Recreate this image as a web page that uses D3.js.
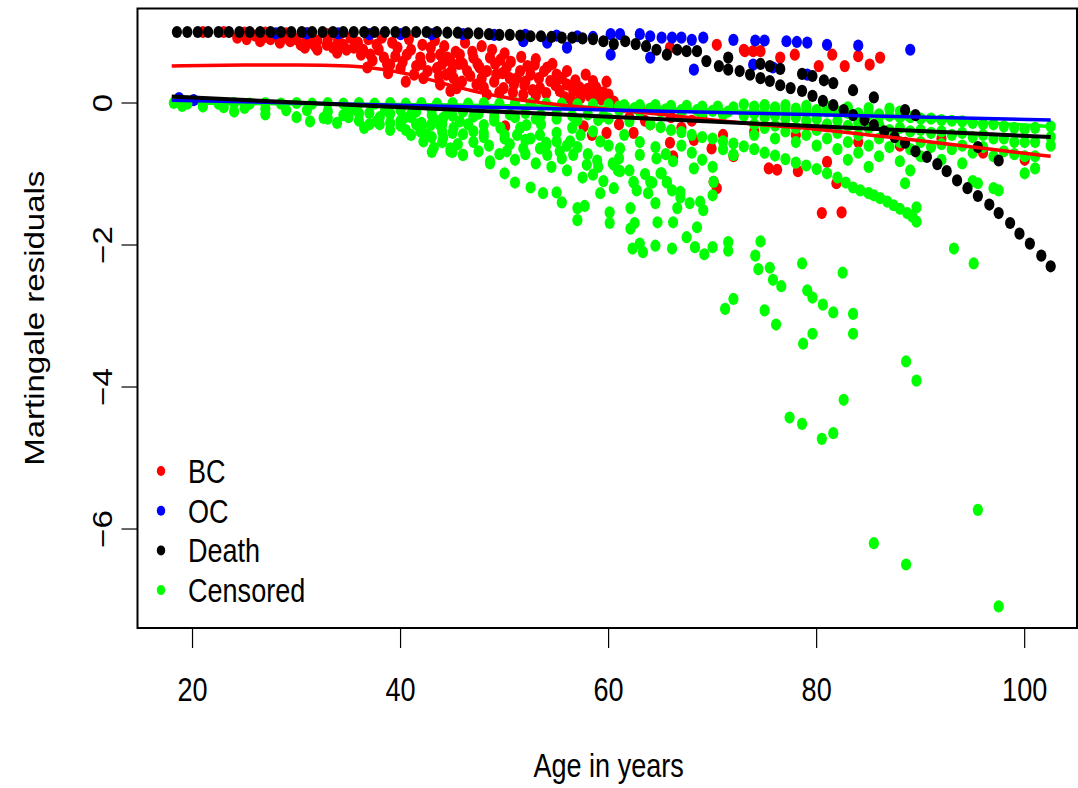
<!DOCTYPE html>
<html>
<head>
<meta charset="utf-8">
<script src="https://cdn.jsdelivr.net/npm/d3@7"></script>
<style>
  body { margin: 0; background: #fff; }
  text { font-family: "Liberation Sans", Arial, Helvetica, sans-serif; font-size: 33px; fill: #000; }
</style>
</head>
<body>
<div id="chart"></div>
<script>
// ---- data: [age, martingale residual] ----
const groups = ["BC", "OC", "Death", "Censored"];
const groupColors = ["#ff0000", "#0000ff", "#000000", "#00ff00"];
const xTicks = [20, 40, 60, 80, 100];
const yTicks = [0, -2, -4, -6];

const bcPoints = [
  [21,1],[23,1],[25,0.99],[27,0.99],[29,0.98],[31,0.98],[33,0.97],
  [26,0.95],[27,0.93],[28,0.95],[29,0.92],[30,0.9],[31,0.92],[32,0.88],[33,0.9],[34,0.85],
  [33.5,0.78],[31.8,0.8],[30.8,0.78],
  [24.3,0.92],[25.2,0.9],[26.5,0.87],[27.5,0.9],[28.4,0.85],[29.4,0.87],[30.4,0.82],[31.3,0.85],
  [32,0.75],[32.9,0.82],[33.9,0.71],[34.5,0.82],[35.5,0.78],[36.4,0.75],[36.8,0.5],[37.1,0.68],
  [37.7,0.82],[38.4,0.64],[39,0.54],[39.7,0.78],[40,0.49],[40.6,0.68],[41.3,0.4],[41.9,0.64],
  [42.2,0.35],[42.9,0.78],[43.5,0.49],[43.8,0.26],[44.5,0.64],[44.8,0.17],[45.1,0.35],
  [43.8,0.68],[44.4,0.4],[44.8,0.59],[45.4,0.21],[45.7,0.68],[46.4,0.45],[47,0.64],[47.3,0.26],
  [47.6,0.5],[48.3,0.12],[48.6,0.64],[49.2,0.4],[49.6,0.61],[49.9,0.21],[50.2,0.5],[50.9,0.26],
  [51.5,0.45],[51.8,0.12],[52.5,0.4],[52.9,0.54],[53.4,0.21],[54.1,0.5],[54.4,0.31],[55,0.4],
  [55.3,0.17],[56,0.26],[56.6,0.17],[57.3,0.07],[58.5,0.31],[58.9,0.07],[60,0.12],
  [46,0.55],[47.8,0.35],[49,0.3],[50.5,0.35],[52,0.3],[53,0.1],[55.8,0.08],[57.5,0.15],
  [58,0.2],[59.3,0.05],[60.5,0.02],[61.5,-0.05],[63,-0.1],[42,0.55],[40.5,0.3],[38.8,0.42],
  [34,0.9],[34.8,0.75],[35.2,0.92],[35.9,0.85],[36.2,0.68],[36.9,0.9],[37.3,0.6],[37.9,0.75],
  [38.2,0.92],[38.7,0.55],[39.2,0.85],[39.5,0.66],[40.2,0.58],[40.8,0.9],[41,0.75],[41.5,0.52],
  [42.1,0.82],[42.6,0.45],[42.9,0.65],[43.3,0.88],[43.7,0.38],[44,0.55],[44.2,0.8],[44.9,0.45],
  [45.3,0.72],[45.6,0.55],[45.9,0.3],[46.2,0.85],[46.7,0.38],[46.9,0.72],[47.4,0.55],[47.8,0.8],
  [48,0.22],[48.3,0.45],[48.8,0.75],[49.1,0.55],[49.5,0.15],[49.8,0.42],[50,0.7],[50.6,0.58],
  [50.8,0.15],[51.2,0.35],[51.6,0.65],[51.9,0.25],[52.2,0.52],[52.7,0.18],[53,0.62],[53.3,0.35],
  [53.8,0.45],[54,0.14],[54.6,0.55],[54.9,0.25],[55.5,0.35],[56,0.45],[56.4,0.05],[56.8,0.32],
  [57.2,0.22],[57.8,0.4],[58.2,0.1],[58.8,0.22],[59.5,0.15],[59.8,0.3],
  [50.05,-0.33],[57.6,-0.33],[58.4,-0.45],[59.8,-0.42],[62.4,-0.42],[65.9,-0.56],[66.2,-0.75],
  [68.2,-0.52],[69.9,-0.64],[70.1,-1.11],[70.4,-1.2],[72,-0.75],[64,-0.3],[67,-0.35],[71,-0.45],
  [61,-0.3],[62,-0.2],[63.5,-0.25],[66,-0.2],[68,-0.25],[69,-0.2],
  [65.9,0.78],[70.4,0.82],[73,0.75],[73.9,0.73],[73.1,0.73],[74.6,0.73],[76.5,0.64],[77.9,0.68],
  [80.2,0.52],[81.5,0.68],[82.7,0.52],[84,0.66],[85.1,0.54],[86.1,0.64],
  [75.4,-0.92],[76.2,-0.94],[78.2,-0.96],[81,-0.83],[81.9,-1.13],[80.5,-1.55],[82.4,-1.54],
  [74,-0.4],[78,-0.45],[84,-0.55],[88,-0.6],[92,-0.5],[96,-0.7],[100,-0.8]
];

const ocPoints = [
  [18.7,0.07],[20.1,0.04],
  [28,0.98],[31,0.98],[34,0.98],[37,0.97],[40,0.97],[43,0.97],[46,0.97],[49,0.96],[52,0.96],
  [55,0.95],[57,0.94],[58.5,0.93],
  [51.8,0.87],[54.1,0.85],[56,0.78],[60.2,0.97],[60.2,0.68],[61.1,0.97],[63,0.97],[64,0.94],
  [64,0.64],[65.1,0.92],[66.1,0.92],[67,0.92],[68,0.89],[68.2,0.47],[69.1,0.92],[72,0.89],
  [74.1,0.88],[75,0.88],[77.1,0.87],[78.1,0.86],[79.1,0.85],[81,0.82],[84,0.81],[89,0.75],
  [73.9,0.54],[75.8,0.5],[79.1,0.4]
];

const deathPoints = [
  [18.5,1],[19.5,1],[20.5,1],[21.5,1],[22.5,1],[23.5,1],[24.5,1],[25.5,1],[26.5,1],[27.5,1],
  [28.5,1],[29.5,1],[30.5,1],[31.5,1],[32.5,1],[33.5,1],[34.5,1],[35.5,1],[36.5,1],[37.5,1],
  [38.5,1],[39.5,1],[40.5,1],[41.5,1],[42.5,1],[43.5,1],[44.5,0.99],[45.5,0.99],[46.5,0.98],
  [47.5,0.98],[48.5,0.97],[49.5,0.96],[50.5,0.96],[51.5,0.95],[52.5,0.94],[53.5,0.94],
  [54.5,0.93],[55.5,0.92],[56.5,0.92],[57.5,0.91],[58.5,0.9],
  [59.5,0.87],[60.5,0.83],[61.6,0.87],[62.6,0.83],[63.6,0.8],[64.6,0.75],[65.6,0.68],[66.6,0.75],
  [67.5,0.73],[68.5,0.73],[69.4,0.59],[70.6,0.52],[71.5,0.64],[71.5,0.47],[72.6,0.45],
  [73.6,0.4],[74.6,0.55],[74.6,0.35],[75.5,0.52],[75.5,0.31],[76.5,0.48],[76.5,0.25],[77.5,0.21],
  [78.6,0.41],[78.6,0.17],[79.6,0.38],[79.6,0.1],[80.7,0.32],[80.6,0.03],[81.6,0.28],[81.6,-0.03],
  [82.6,-0.1],[83.5,0.18],[83.5,-0.17],[84.6,-0.24],[85.5,0.08],[85.5,-0.31],[86.5,-0.4],
  [87.5,-0.48],[88.5,-0.1],[88.5,-0.56],[89.5,-0.17],[89.5,-0.68],[90.6,-0.76],[91.6,-0.86],
  [92.5,-0.96],[93.5,-1.09],[94.5,-1.2],[95.5,-1.31],[95.5,-0.62],[96.6,-1.43],[97.5,-0.81],
  [97.5,-1.55],[98.6,-1.69],[99.5,-1.84],[100.5,-1.98],[101.6,-2.15],[102.5,-2.3]
];

const censPoints = [
  // upper band
  [18.2,0],[19.5,-0.01],[21,0],[22.5,-0.01],[24,0],[25.5,-0.01],[27,0],[28.5,-0.01],[30,0],
  [31.5,-0.01],[33,0],[34.5,-0.01],[36,0],[37.5,-0.01],[39,0],[40.5,-0.01],[42,0],[43.5,-0.01],
  [45,0],[46.5,-0.01],[48,0],[49.5,-0.01],[51,0],[52.5,-0.01],[54,-0.01],[55.5,-0.01],[57,-0.02],
  [58.5,-0.02],[60,-0.02],[61.5,-0.03],[63,-0.03],[64.5,-0.03],[66,-0.04],[67.5,-0.04],[69,-0.05],
  [70.5,-0.05],[72,-0.06],
  [73,-0.02],[75,-0.03],[77,-0.03],[79,-0.04],[81,-0.05],[83,-0.06],[85,-0.07],[87,-0.08],
  [74,-0.1],[76,-0.1],[78,-0.12],[80,-0.13],[82,-0.14],[84,-0.15],[86,-0.16],[88,-0.12],
  [19,-0.04],[21,-0.05],[23,-0.06],[25,-0.07],[27,-0.08],[29,-0.1],[31,-0.1],[33,-0.12],[35,-0.12],
  [37,-0.14],[39,-0.15],[41,-0.16],[43,-0.17],[45,-0.18],[47,-0.19],[49,-0.2],[51,-0.2],[53,-0.22],
  [55,-0.22],[57,-0.24],[59,-0.24],[61,-0.1],[63,-0.12],[65,-0.12],[67,-0.14],[69,-0.15],[71,-0.16],
  [73,-0.18],
  [40,-0.1],[41.5,-0.12],[43,-0.1],[44.5,-0.14],[46,-0.12],[47.5,-0.15],[49,-0.13],[50.5,-0.16],
  [52,-0.14],[53.5,-0.17],[55,-0.15],[56.5,-0.18],[58,-0.16],[59.5,-0.18],[61,-0.05],[62.5,-0.07],
  [64,-0.08],[65.5,-0.09],[67,-0.1],[68.5,-0.1],[70,-0.11],[71.5,-0.12],
  [24,-0.12],[27,-0.16],[30,-0.2],[33,-0.22],[36,-0.25],[38,-0.3],[40,-0.32],[42,-0.36],[44,-0.4],
  [46,-0.44],[48,-0.48],[50,-0.5],[52,-0.52],[54,-0.56],[56,-0.6],
  [31.3,-0.26],[32.6,-0.21],[33.9,-0.28],[34.5,-0.17],[36.5,-0.35],[37.7,-0.26],[39,-0.28],
  [40.3,-0.21],[41,-0.45],[41.9,-0.4],[42.2,-0.54],[42.9,-0.31],[43.2,-0.63],[44.1,-0.49],
  [44.8,-0.68],[45.1,-0.35],
  [35,-0.2],[36,-0.15],[37,-0.3],[38,-0.2],[39,-0.38],[40,-0.25],[41,-0.2],[42,-0.28],[43,-0.48],
  [44,-0.3],[38.5,-0.1],[35.5,-0.08],
  // lower cloud
  [40.5,-0.38],[41.5,-0.3],[42.5,-0.45],[43.5,-0.25],[44,-0.55],[45,-0.42],[45.5,-0.58],[46.5,-0.3],
  [47,-0.55],[47.5,-0.68],[48,-0.42],[48.5,-0.6],[49,-0.25],[49.5,-0.72],[50,-0.45],[50.5,-0.58],
  [51,-0.8],[51.5,-0.35],[52,-0.72],[52.5,-0.5],[53,-0.85],[53.5,-0.3],[54,-0.6],[54.5,-0.9],
  [55,-0.42],[55.5,-0.78],[56,-0.95],[56.5,-0.35],[57,-0.62],[57.5,-1.05],[58,-0.72],[58.5,-0.4],
  [59,-0.9],[59.5,-1.1],[60,-0.6],[60.5,-1.2],[61,-0.78],[61.5,-0.45],[62,-0.95],[63,-0.55],
  [63.5,-1.0],[64.5,-0.62],[65.5,-0.72],[67,-0.6],[68,-0.7],[69,-0.8],[70,-0.9],[71,-0.65],
  [43.8,-0.31],[44.8,-0.64],[46,-0.73],[47,-0.4],[48.6,-0.82],[50.2,-0.68],[51.2,-0.45],[51.8,-0.64],
  [53.4,-0.45],[54.1,-0.73],[55,-0.54],[56.3,-0.54],[56.6,-0.73],[57.9,-0.87],[58.5,-1.01],
  [60.5,-0.87],[61.1,-0.96],[62.4,-1.11],[64,-1.11],[65,-0.99],[65.6,-1.11],[66.9,-1.25],
  [68.8,-1.39],[70.1,-1.11],[72,-0.73],[44.1,-0.21],[45.7,-0.26],[48,-0.31],[49.6,-0.35],
  [52.1,-0.31],[53.4,-0.64],[55.3,-0.68],[57.3,-0.45],[59.2,-0.54],[61.1,-0.64],[63,-0.73],
  [64.6,-0.78],[66.2,-0.82],[68.2,-0.92],
  [43,-0.69],[45,-0.69],[46,-0.73],[48.6,-0.85],[50,-0.99],[51,-1.12],[52.5,-1.19],[53.7,-1.27],
  [55,-1.26],[55.5,-1.4],[57,-1.48],[57,-1.65],[57.7,-1.45],[58.9,-0.81],[59.2,-1.27],[60.1,-1.54],
  [60.1,-1.69],[60.4,-0.85],[60.9,-0.95],[62.1,-1.48],[62.4,-1.12],[62.1,-1.77],[62.5,-1.69],
  [62.7,-1.23],[62.3,-2.05],[63.3,-2.1],[63,-1.98],[64.2,-1.12],[64.5,-2.01],[64.7,-1.68],
  [63.8,-1.27],[64.5,-1.41],[65.1,-0.99],[65.6,-1.12],[66.1,-1.23],[66.2,-1.68],[66.9,-1.33],
  [66.6,-1.48],[66.1,-2.05],[67.5,-1.89],[67.8,-1.41],[68.5,-1.75],[68.3,-2.03],[69.1,-1.51],
  [69.2,-2.13],[70,-2.03],[70,-1.3],[71.5,-1.96],[71.5,-2.08],[71.2,-2.9],[72,-2.76],[72,-0.73],
  // long trail
  [60,-0.22],[62,-0.26],[64,-0.3],[65,-0.34],[66,-0.38],[67,-0.41],[68,-0.45],[69,-0.48],[70,-0.5],
  [71,-0.54],[72,-0.57],[73,-0.61],[74,-0.65],[75,-0.7],[76,-0.74],[77,-0.79],[78,-0.84],[79,-0.88],
  [80,-0.93],[81,-0.99],[82,-1.05],[82.8,-1.12],[83.5,-1.19],[84.2,-1.23],[85,-1.27],[85.5,-1.3],
  [86.1,-1.34],[86.8,-1.39],[87.4,-1.44],[88,-1.49],[88.7,-1.55],[89.2,-1.6],[89.6,-1.67],
  // right columns
  [74,-0.05],[74,-0.15],[74,-0.3],[74,-0.45],[75,-0.05],[75,-0.2],[75,-0.35],
  [76,-0.06],[76,-0.18],[76,-0.32],[76,-0.5],[77,-0.08],[77,-0.22],[77,-0.4],
  [78,-0.08],[78,-0.2],[78,-0.35],[78,-0.55],[79,-0.1],[79,-0.25],[79,-0.45],
  [80,-0.1],[80,-0.22],[80,-0.38],[80,-0.6],[81,-0.12],[81,-0.3],[81,-0.5],
  [82,-0.12],[82,-0.25],[82,-0.42],[82,-0.65],[83,-0.14],[83,-0.32],[83,-0.55],[83,-0.8],
  [84,-0.15],[84,-0.28],[84,-0.45],[84,-0.7],[85,-0.16],[85,-0.35],[85,-0.6],[85,-0.9],
  [86,-0.18],[86,-0.3],[86,-0.5],[86,-0.75],[87,-0.18],[87,-0.38],[87,-0.62],
  [88,-0.2],[88,-0.35],[88,-0.55],[88,-0.82],[89,-0.2],[89,-0.4],[89,-0.65],[89,-0.95],
  [90,-0.22],[90,-0.38],[90,-0.55],[90,-0.75],[91,-0.22],[91,-0.42],[91,-0.62],
  [92,-0.24],[92,-0.4],[92,-0.58],[92,-0.8],[93,-0.25],[93,-0.45],[93,-0.65],
  [94,-0.26],[94,-0.42],[94,-0.6],[94,-0.85],[95,-0.28],[95,-0.48],[95,-0.7],[95,-1.1],
  [96,-0.3],[96,-0.45],[96,-0.62],[97,-0.3],[97,-0.5],[97,-0.75],[97,-1.2],
  [98,-0.33],[98,-0.5],[98,-0.68],[99,-0.35],[99,-0.55],[99,-0.72],
  [100,-0.37],[100,-0.55],[100,-0.75],[100,-0.99],[101,-0.35],[101,-0.55],[101,-0.75],[101,-0.92],
  [102.5,-0.33],[102.5,-0.48],[102.5,-0.6],
  // outliers
  [74.6,-1.95],[74.1,-2.15],[74.4,-2.34],[75.5,-2.32],[75.8,-2.49],[76.6,-2.58],[78.6,-2.26],
  [79.1,-2.64],[79.6,-2.74],[80.6,-2.84],[81.6,-2.95],[83.5,-2.97],[83.5,-3.25],[82.5,-2.39],
  [79.6,-3.25],[78.7,-3.39],[75,-2.92],[76.1,-3.12],[88.6,-3.64],[89.6,-3.91],[82.6,-4.18],
  [77.4,-4.43],[78.6,-4.52],[81.6,-4.65],[80.5,-4.73],[93.2,-2.05],[95.1,-2.26],[88.5,-1.13],
  [89.6,-1.47],[95.5,-1.13],[97.5,-1.23],[95.5,-5.73],[85.5,-6.2],[88.6,-6.5],[97.5,-7.09]
];

// fitted curves (knots)
const bcLine = [[18,0.52],[25,0.535],[30,0.535],[35,0.52],[38,0.48],[41,0.4],[44,0.28],[47,0.17],
  [50,0.08],[55,-0.02],[60,-0.09],[65,-0.16],[70,-0.24],[75,-0.31],[80,-0.37],[85,-0.45],
  [90,-0.53],[95,-0.62],[102.5,-0.75]];
const ocLine = [[18,0.04],[102.5,-0.24]];
const deathLine = [[18,0.09],[102.5,-0.48]];
const censLine = [[18,0.0],[60,-0.06],[102.5,-0.33]];

// ---- layout ----
const width = 1078, height = 788;
const box = {left: 137.5, right: 1077, top: 8.5, bottom: 628};
const sx = 0.82; // picture is squeezed horizontally

const svg = d3.select("#chart").append("svg")
    .attr("width", width)
    .attr("height", height);

const x = d3.scaleLinear().domain([14.71, 105.03]).range([box.left, box.right]);
const y = d3.scaleLinear().domain([-7.394, 1.331]).range([box.bottom, box.top]);

const line = d3.line().x(d => x(d[0])).y(d => y(d[1])).curve(d3.curveMonotoneX);

// censored smoother sits under the points (hidden in the original)
svg.append("path")
    .attr("d", line(censLine))
    .attr("fill", "none")
    .attr("stroke", groupColors[3])
    .attr("stroke-width", 3.5);

// points, drawn group by group
const pointSets = [bcPoints, ocPoints, censPoints, deathPoints];
const setColors = [groupColors[0], groupColors[1], groupColors[3], groupColors[2]];
pointSets.forEach(function(pts, i) {
    svg.append("g").selectAll("ellipse")
        .data(pts)
        .join("ellipse")
        .attr("cx", d => x(d[0]))
        .attr("cy", d => y(d[1]))
        .attr("rx", 5.1)
        .attr("ry", 6.1)
        .attr("fill", setColors[i]);
});

// lines
[[bcLine, groupColors[0]], [ocLine, groupColors[1]], [deathLine, groupColors[2]]]
  .forEach(function(l) {
    svg.append("path")
        .attr("d", line(l[0]))
        .attr("fill", "none")
        .attr("stroke", l[1])
        .attr("stroke-width", l[1] === "#000000" ? 4 : 3.5);
  });

// box
svg.append("rect")
    .attr("x", box.left).attr("y", box.top)
    .attr("width", box.right - box.left).attr("height", box.bottom - box.top)
    .attr("fill", "none").attr("stroke", "#000").attr("stroke-width", 2);

// x axis
svg.append("line")
    .attr("x1", x(20)).attr("x2", x(100)).attr("y1", box.bottom).attr("y2", box.bottom)
    .attr("stroke", "#000").attr("stroke-width", 1.5);
xTicks.forEach(function(t) {
    svg.append("line")
        .attr("x1", x(t)).attr("x2", x(t)).attr("y1", box.bottom).attr("y2", box.bottom + 20)
        .attr("stroke", "#000").attr("stroke-width", 1.2);
    svg.append("text")
        .attr("transform", "translate(" + x(t) + ",701) scale(" + sx + ",1)")
        .attr("text-anchor", "middle")
        .text(t);
});

// y axis
yTicks.forEach(function(t) {
    svg.append("line")
        .attr("x1", box.left).attr("x2", box.left - 16).attr("y1", y(t)).attr("y2", y(t))
        .attr("stroke", "#000").attr("stroke-width", 1.2);
    svg.append("text")
        .attr("transform", "translate(112," + y(t) + ") rotate(-90) scale(1," + sx + ")")
        .attr("text-anchor", "middle")
        .text(t < 0 ? "\u2212" + Math.abs(t) : t);
});

// axis titles
svg.append("text")
    .attr("transform", "translate(" + x(60) + ",777) scale(" + sx + ",1)")
    .attr("text-anchor", "middle")
    .text("Age in years");
svg.append("text")
    .attr("transform", "translate(44," + ((box.top + box.bottom) / 2) + ") rotate(-90) scale(1," + sx + ")")
    .attr("text-anchor", "middle")
    .text("Martingale residuals");

// legend
const legend = svg.append("g");
groups.forEach(function(g, i) {
    const cy = 471 + i * 39.7;
    legend.append("ellipse")
        .attr("cx", 161).attr("cy", cy).attr("rx", 4.2).attr("ry", 5)
        .attr("fill", groupColors[i]);
    legend.append("text")
        .attr("transform", "translate(188," + (cy + 12) + ") scale(" + sx + ",1)")
        .text(g);
});
</script>
</body>
</html>
